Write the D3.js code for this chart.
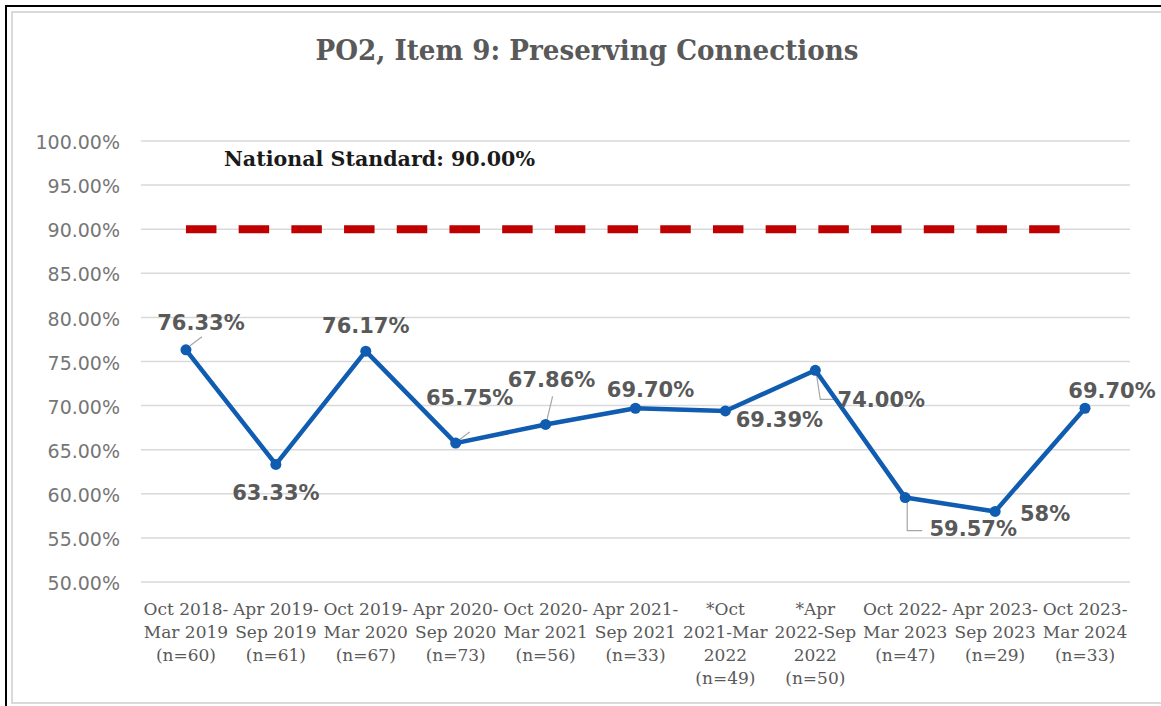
<!DOCTYPE html>
<html>
<head>
<meta charset="utf-8">
<script src="https://cdn.jsdelivr.net/npm/d3@7"></script>
<style>
  body { margin: 0; background: #fff; }
  svg { display: block; }
</style>
</head>
<body>
<script>
// chart data
var categories = ["Oct 2018-Mar 2019", "Apr 2019-Sep 2019", "Oct 2019-Mar 2020", "Apr 2020-Sep 2020",
	"Oct 2020-Mar 2021", "Apr 2021-Sep 2021", "*Oct 2021-Mar 2022", "*Apr 2022-Sep 2022",
	"Oct 2022-Mar 2023", "Apr 2023-Sep 2023", "Oct 2023-Mar 2024"];
var tickLines = [
	["Oct 2018-", "Mar 2019", "(n=60)"],
	["Apr 2019-", "Sep 2019", "(n=61)"],
	["Oct 2019-", "Mar 2020", "(n=67)"],
	["Apr 2020-", "Sep 2020", "(n=73)"],
	["Oct 2020-", "Mar 2021", "(n=56)"],
	["Apr 2021-", "Sep 2021", "(n=33)"],
	["*Oct", "2021-Mar", "2022", "(n=49)"],
	["*Apr", "2022-Sep", "2022", "(n=50)"],
	["Oct 2022-", "Mar 2023", "(n=47)"],
	["Apr 2023-", "Sep 2023", "(n=29)"],
	["Oct 2023-", "Mar 2024", "(n=33)"]
];
var values = [76.33, 63.33, 76.17, 65.75, 67.86, 69.70, 69.39, 74.00, 59.57, 58, 69.70];
var valueLabels = ["76.33%", "63.33%", "76.17%", "65.75%", "67.86%", "69.70%", "69.39%", "74.00%", "59.57%", "58%", "69.70%"];
var nationalStandard = 90;
var yTicks = [50, 55, 60, 65, 70, 75, 80, 85, 90, 95, 100];

// label placement relative to each point (layout only)
var labelOffset = [[15, -20], [0, 36], [0, -18], [14, -38], [6, -37], [15, -11],
	[54, 16], [66, 37], [68, 38], [50, 10], [27, -10]];
var leaders = [
	[[4, -4], [16, -13]], null, null,
	[[2, -2], [14, -11]],
	[[1, -3], [7, -28]],
	null, null,
	[[1, 3], [5, 29], [23, 29]],
	[[2, 3], [2, 33], [17, 33]],
	null, null
];

var W = 1161, H = 706;

var svg = d3.select("body")
	.append("svg")
	.attr("width", W)
	.attr("height", H);

// frame
svg.append("rect")
	.attr("x", 12).attr("y", 12)
	.attr("width", W + 10).attr("height", 691)
	.attr("fill", "none")
	.attr("stroke", "#d9d9d9")
	.attr("stroke-width", 2);
svg.append("path")
	.attr("d", "M6," + (H + 5) + "V6H" + (W + 5))
	.attr("fill", "none")
	.attr("stroke", "#000")
	.attr("stroke-width", 2);

var x = d3.scaleBand()
	.domain(categories)
	.range([141, 1130]);

var y = d3.scaleLinear()
	.domain([50, 100])
	.range([582, 141]);

var cx = function(i) { return x(categories[i]) + x.bandwidth() / 2; };

// title
svg.append("text")
	.attr("x", 587)
	.attr("y", 60)
	.attr("text-anchor", "middle")
	.attr("textLength", 543)
	.attr("lengthAdjust", "spacingAndGlyphs")
	.style("font-family", "'DejaVu Serif Condensed', 'DejaVu Serif', serif")
	.style("font-weight", "bold")
	.style("font-size", "28px")
	.style("fill", "#595959")
	.text("PO2, Item 9: Preserving Connections");

// gridlines
svg.append("g")
	.selectAll("line")
	.data(yTicks)
	.enter()
	.append("line")
	.attr("x1", 141).attr("x2", 1130)
	.attr("y1", d => y(d)).attr("y2", d => y(d))
	.attr("stroke", "#d9d9d9")
	.attr("stroke-width", 1.5);

// y axis
var yAxis = svg.append("g")
	.attr("transform", "translate(141,0)")
	.call(d3.axisLeft(y).tickValues(yTicks).tickSize(0).tickPadding(21)
		.tickFormat(d => d3.format(".2f")(d) + "%"));
yAxis.select(".domain").remove();
yAxis.selectAll("text")
	.attr("dy", "0.4em")
	.style("font-family", "'DejaVu Sans', Verdana, sans-serif")
	.style("font-size", "19px")
	.style("fill", "#767676");

// x axis labels
var xg = svg.append("g")
	.selectAll("text")
	.data(tickLines)
	.enter()
	.append("text")
	.attr("text-anchor", "middle")
	.style("font-family", "'DejaVu Serif', serif")
	.style("font-size", "17px")
	.style("fill", "#595959");
xg.each(function(lines, i) {
	d3.select(this).selectAll("tspan")
		.data(lines)
		.enter()
		.append("tspan")
		.attr("x", cx(i))
		.attr("y", (d, j) => 615 + j * 23)
		.text(d => d);
});

// national standard
svg.append("line")
	.attr("x1", cx(0))
	.attr("x2", cx(categories.length - 1) - 5)
	.attr("y1", y(nationalStandard)).attr("y2", y(nationalStandard))
	.attr("stroke", "#c00000")
	.attr("stroke-width", 8)
	.attr("stroke-dasharray", "30.5,22.2");

svg.append("text")
	.attr("x", 224)
	.attr("y", 166)
	.attr("textLength", 311)
	.attr("lengthAdjust", "spacingAndGlyphs")
	.style("font-family", "'DejaVu Serif', serif")
	.style("font-weight", "bold")
	.style("font-size", "20px")
	.style("fill", "#1a1a1a")
	.text("National Standard: " + d3.format(".2f")(nationalStandard) + "%");

// leader lines
svg.append("g")
	.selectAll("path")
	.data(leaders)
	.enter()
	.filter(d => d)
	.append("path")
	.attr("d", function(d) {
		var i = leaders.indexOf(d);
		return d3.line()(d.map(p => [cx(i) + p[0], y(values[i]) + p[1]]));
	})
	.attr("fill", "none")
	.attr("stroke", "#a6a6a6")
	.attr("stroke-width", 1.2);

// series line
var line = d3.line()
	.x((d, i) => cx(i))
	.y(d => y(d));

svg.append("path")
	.datum(values)
	.attr("d", line)
	.attr("fill", "none")
	.attr("stroke", "#0f5cb0")
	.attr("stroke-width", 4.5)
	.attr("stroke-linejoin", "round");

svg.append("g")
	.selectAll("circle")
	.data(values)
	.enter()
	.append("circle")
	.attr("cx", (d, i) => cx(i))
	.attr("cy", d => y(d))
	.attr("r", 5.5)
	.attr("fill", "#0f5cb0");

// data labels
svg.append("g")
	.selectAll("text")
	.data(values)
	.enter()
	.append("text")
	.attr("x", (d, i) => cx(i) + labelOffset[i][0])
	.attr("y", (d, i) => y(d) + labelOffset[i][1])
	.attr("text-anchor", "middle")
	.style("font-family", "'DejaVu Sans', Verdana, sans-serif")
	.style("font-weight", "bold")
	.style("font-size", "21px")
	.style("fill", "#595959")
	.text((d, i) => valueLabels[i]);
</script>
</body>
</html>
